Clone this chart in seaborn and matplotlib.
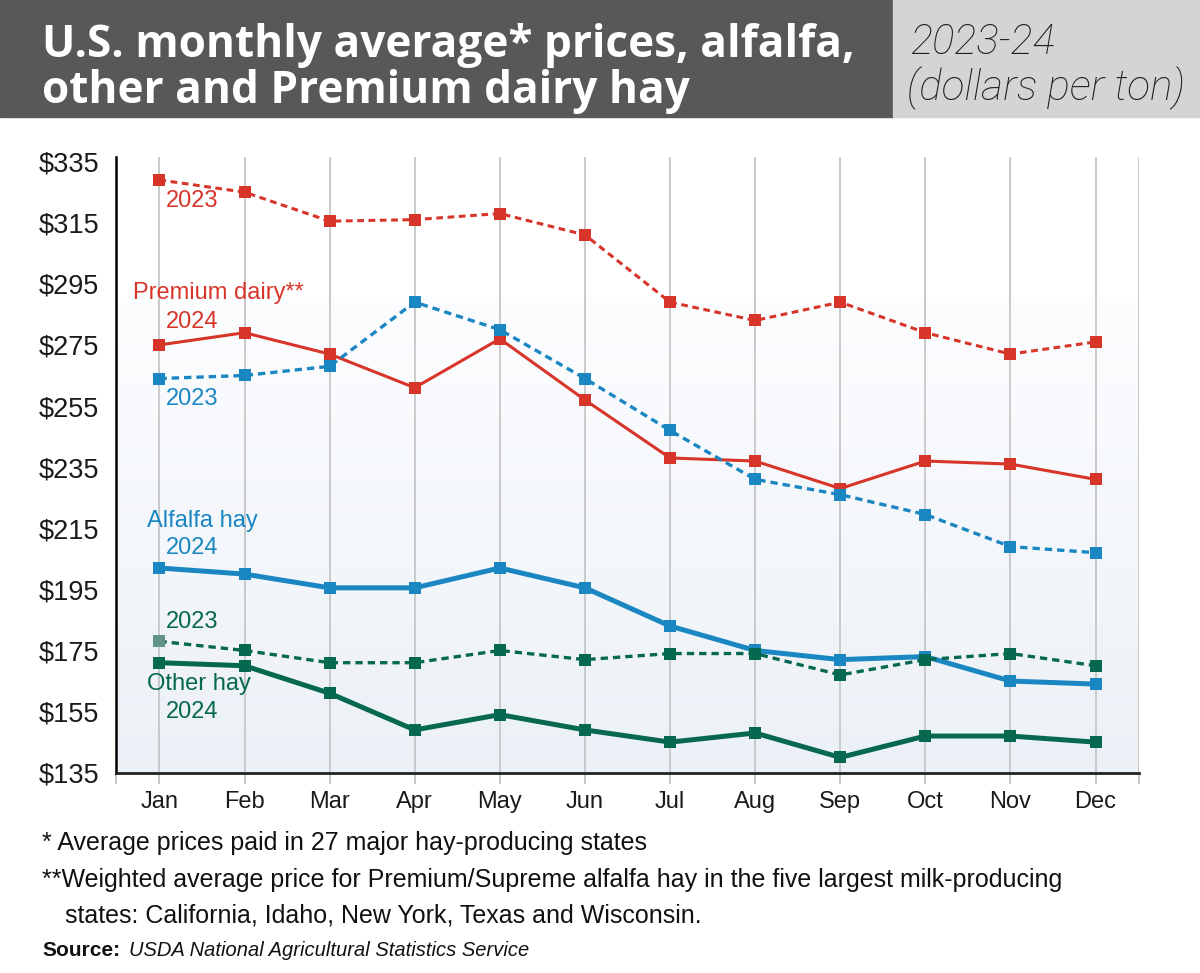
import numpy as np
import pandas as pd
import matplotlib
matplotlib.use('Agg')
import matplotlib.pyplot as plt
import seaborn as sns
from matplotlib import font_manager
from matplotlib.patches import Rectangle

# Monthly average prices, dollars per ton
months = ['Jan', 'Feb', 'Mar', 'Apr', 'May', 'Jun', 'Jul', 'Aug', 'Sep', 'Oct', 'Nov', 'Dec']
premium_2023 = [329, 325, 315.5, 316, 318, 311, 289, 283, 289, 279, 272, 276]
premium_2024 = [275, 279, 272, 261, 277, 257, 238, 237, 228, 237, 236, 231]
alfalfa_2023 = [264, 265, 268, 289, 280, 264, 247, 231, 226, 219.5, 209, 207]
alfalfa_2024 = [202, 200, 195.5, 195.5, 202, 195.5, 183, 175, 172, 173, 165, 164]
other_2023 = [178, 175, 171, 171, 175, 172, 174, 174, 167, 172, 174, 170]
other_2024 = [171, 170, 161, 149, 154, 149, 145, 148, 140, 147, 147, 145]
y_ticks = [135, 155, 175, 195, 215, 235, 255, 275, 295, 315, 335]

RED = '#d8352a'
BLUE = '#1a86c2'
GREEN = '#05684f'

sns.set_theme(style='white')
names = {f.name for f in font_manager.fontManager.ttflist}
narrow = 'Liberation Sans Narrow' if 'Liberation Sans Narrow' in names else 'Liberation Sans'
plt.rcParams['font.family'] = [narrow, 'DejaVu Sans']

fig = plt.figure(figsize=(12, 9.73), dpi=100)
ax = fig.add_axes([116 / 1200, 1 - 772.7 / 973, 1023 / 1200, 616 / 973])

# soft gradient panel behind the lines
grad = np.ones((200, 1, 3))
top_c = np.array([0.99, 0.993, 1.0])
bot_c = np.array([0.925, 0.945, 0.968])
for i in range(200):
    frac = i / 199  # 0 top, 1 bottom
    if frac < 0.225:
        grad[i, 0] = [1, 1, 1]
    else:
        t = (frac - 0.225) / 0.775
        grad[i, 0] = top_c + (bot_c - top_c) * t
ax.imshow(grad, extent=[0, 1, 0, 1], transform=ax.transAxes, aspect='auto', zorder=0)

series = [
    (premium_2023, RED, 2.2, True),
    (premium_2024, RED, 2.2, False),
    (alfalfa_2023, BLUE, 2.4, True),
    (alfalfa_2024, BLUE, 3.6, False),
    (other_2023, GREEN, 2.4, True),
    (other_2024, GREEN, 3.6, False),
]
for vals, color, lw, dashed in series:
    df = pd.DataFrame({'month': months, 'price': vals})
    sns.lineplot(data=df, x='month', y='price', ax=ax, color=color, linewidth=lw,
                 marker='s', markersize=8, markeredgewidth=0, sort=False,
                 linestyle=(0, (2.2, 1.5)) if dashed else '-', zorder=3)

# lighter first marker of the other hay 2023 line
sns.scatterplot(x=[months[0]], y=[other_2023[0]], ax=ax, marker='s', s=64,
                color='#5f9486', linewidth=0, zorder=4)

ax.set_xlim(-0.51, 11.51)
ax.set_ylim(135, 336.6)
ax.set_yticks(y_ticks)
ax.set_yticklabels([f'${v}' for v in y_ticks], fontsize=19.5, color='#1a1a1a')
ax.tick_params(axis='y', length=0, pad=12)
ax.set_xticks(range(len(months)))
ax.set_xticklabels(months, fontsize=17, color='#1a1a1a')
ax.set_xticks([-0.51, 11.51], minor=True)
ax.tick_params(axis='x', which='both', length=8, width=1.3, color='#c2c2c2', pad=5, bottom=True)
ax.xaxis.get_minor_ticks()[0].tick1line.set_color('black')
ax.grid(axis='x', color='#c6c6c6', linewidth=1.3, zorder=1)
ax.grid(axis='x', which='minor', color='#c6c6c6', linewidth=1.3)
ax.grid(axis='y', visible=False)
ax.set_xlabel('')
ax.set_ylabel('')
for side in ['top', 'right']:
    ax.spines[side].set_visible(False)
ax.spines['left'].set_color('black')
ax.spines['left'].set_linewidth(1.8)
ax.spines['bottom'].set_color('#222222')
ax.spines['bottom'].set_linewidth(2)

# series labels
lab = dict(fontsize=17, va='center', ha='left')
ax.text(0.08, 322.0, '2023', color=RED, **lab)
ax.text(-0.31, 292.1, 'Premium dairy**', color=RED, **lab)
ax.text(0.08, 282.6, '2024', color=RED, **lab)
ax.text(0.08, 257.4, '2023', color=BLUE, **lab)
ax.text(-0.15, 217.4, 'Alfalfa hay', color=BLUE, **lab)
ax.text(0.08, 208.6, '2024', color=BLUE, **lab)
ax.text(0.08, 184.4, '2023', color=GREEN, **lab)
ax.text(-0.15, 164.0, 'Other hay', color=GREEN, **lab)
ax.text(0.08, 155.0, '2024', color=GREEN, **lab)

# header boxes
fig.patches.append(Rectangle((0, 1 - 117 / 973), 893 / 1200, 117 / 973,
                             transform=fig.transFigure, color='#58585a', zorder=0))
fig.patches.append(Rectangle((893 / 1200, 1 - 117 / 973), 307 / 1200, 117 / 973,
                             transform=fig.transFigure, color='#d4d4d4', zorder=0))
title_font = ['Open Sans', 'DejaVu Sans']
fig.text(42 / 1200, 1 - 57 / 973, 'U.S. monthly average* prices, alfalfa,', color='white',
         fontsize=31.8, fontweight='bold', family=title_font, va='baseline')
fig.text(42 / 1200, 1 - 103 / 973, 'other and Premium dairy hay', color='white',
         fontsize=31.8, fontweight='bold', family=title_font, va='baseline')
sub_font = ['Roboto', 'Liberation Sans', 'DejaVu Sans']
fig.text(911 / 1200, 1 - 54 / 973, '2023-24', color='#1e1e1e', fontsize=30,
         style='italic', fontweight='light', family=sub_font, va='baseline')
fig.text(907 / 1200, 1 - 100 / 973, '(dollars per ton)', color='#1e1e1e', fontsize=30.5,
         style='italic', fontweight='light', family=sub_font, va='baseline')

# footnotes
fig.text(42 / 1200, 1 - 843 / 973, '* Average prices paid in 27 major hay-producing states',
         fontsize=18, color='#111111', va='center')
fig.text(42 / 1200, 1 - 880 / 973,
         '**Weighted average price for Premium/Supreme alfalfa hay in the five largest milk-producing',
         fontsize=18, color='#111111', va='center')
fig.text(65 / 1200, 1 - 915 / 973, 'states: California, Idaho, New York, Texas and Wisconsin.',
         fontsize=18, color='#111111', va='center')
fig.text(42 / 1200, 1 - 950 / 973, 'Source:', fontsize=15, fontweight='bold',
         color='#111111', va='center')
fig.text(129 / 1200, 1 - 950 / 973, 'USDA National Agricultural Statistics Service',
         fontsize=14.5, style='italic', color='#111111', va='center')

fig.savefig('out.png', dpi=100)
